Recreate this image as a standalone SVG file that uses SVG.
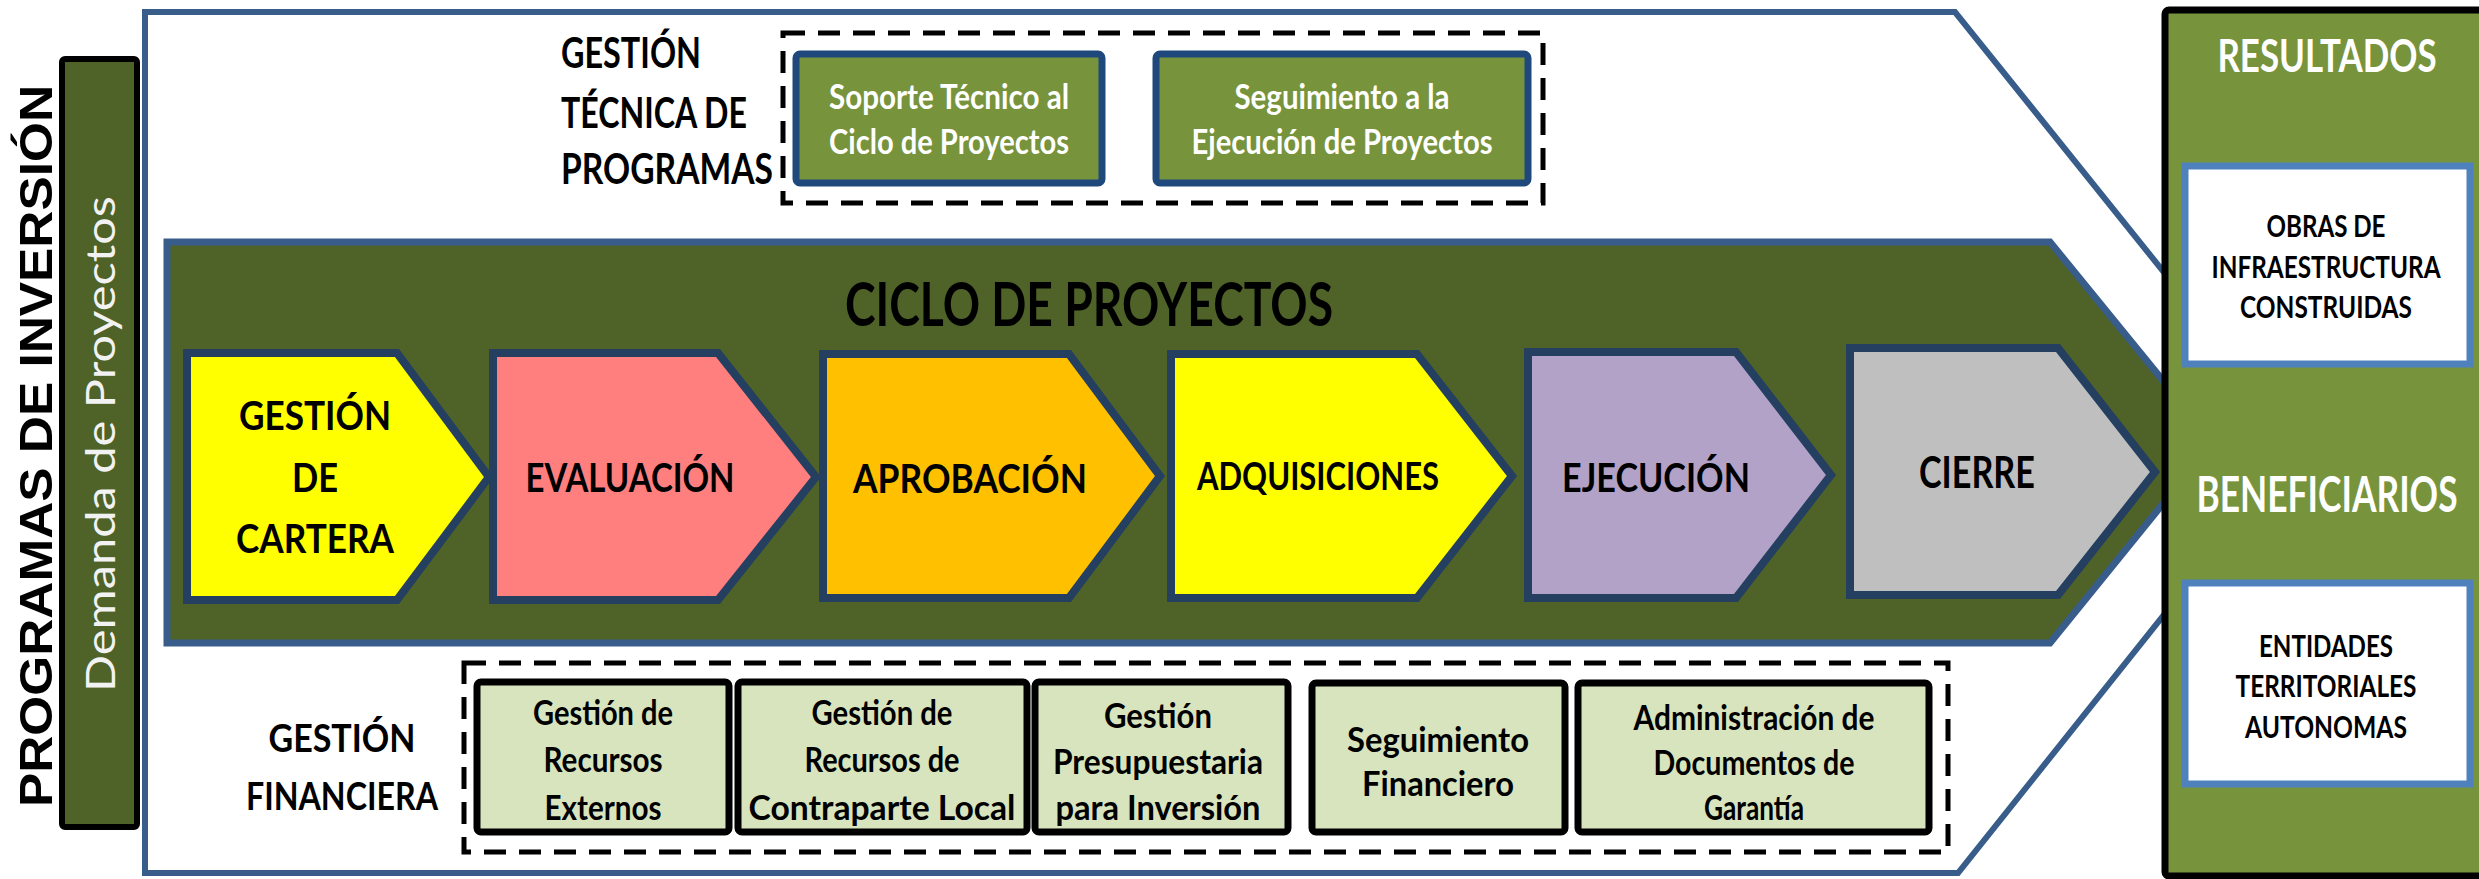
<svg xmlns="http://www.w3.org/2000/svg" width="2479" height="879" viewBox="0 0 2479 879">
<defs>
<style>
text{font-family:Lato,"Liberation Sans",sans-serif;font-weight:700;fill:#000}
.m{text-anchor:middle}
.w{fill:#fff}
.chev{stroke:#243F60;stroke-width:8}
.lbl{font-size:40px}
.dash{fill:none;stroke:#000;stroke-width:5;stroke-dasharray:22 13}
.tg{fill:#77933C;stroke:#1F497D;stroke-width:7}
.fb{fill:#D7E4BD;stroke:#000;stroke-width:7}
.wb{fill:#fff;stroke:#4F81BD;stroke-width:7}
.bt{font-size:34px}
.st{font-size:30px}
.hd{font-size:42px}
</style>
</defs>
<rect width="2479" height="879" fill="#fff"/>

<g id="programas-inversion">
<text transform="translate(52,446) rotate(-90)" class="m" style="font-family:'Liberation Sans',Arial,sans-serif;font-size:47px" textLength="722" lengthAdjust="spacingAndGlyphs">PROGRAMAS DE INVERSIÓN</text>
</g>

<g id="demanda-proyectos">
<rect x="62" y="59" width="75" height="768" rx="3" fill="#4F6228" stroke="#000" stroke-width="6"/>
<text transform="translate(115,444) rotate(-90)" class="m" style="font-weight:400;font-size:40px;fill:#F2F2F2" textLength="496" lengthAdjust="spacingAndGlyphs">Demanda de Proyectos</text>
</g>

<g id="marco-programa">
<polygon points="145,12 1955,12 2301,443 1958,873 145,873" fill="#fff" stroke="#385D8A" stroke-width="6"/>
</g>

<g id="gestion-tecnica">
<text x="561" y="68" class="hd" textLength="140" lengthAdjust="spacingAndGlyphs">GESTIÓN</text>
<text x="561" y="128" class="hd" textLength="186" lengthAdjust="spacingAndGlyphs">TÉCNICA DE</text>
<text x="561" y="184" class="hd" textLength="212" lengthAdjust="spacingAndGlyphs">PROGRAMAS</text>
<rect x="783" y="33" width="760" height="170" class="dash"/>
</g>
<g id="soporte-tecnico">
<rect x="796" y="54" width="306" height="129" rx="4" class="tg"/>
<text x="949" y="109" class="m w bt" textLength="240" lengthAdjust="spacingAndGlyphs">Soporte Técnico al</text>
<text x="949" y="154" class="m w bt" textLength="240" lengthAdjust="spacingAndGlyphs">Ciclo de Proyectos</text>
</g>
<g id="seguimiento-ejecucion">
<rect x="1156" y="54" width="372" height="129" rx="4" class="tg"/>
<text x="1342" y="109" class="m w bt" textLength="215" lengthAdjust="spacingAndGlyphs">Seguimiento a la</text>
<text x="1342" y="154" class="m w bt" textLength="301" lengthAdjust="spacingAndGlyphs">Ejecución de Proyectos</text>
</g>

<g id="ciclo-proyectos">
<polygon points="167,242 2050,242 2213,442 2050,643 167,643" fill="#4F6228" stroke="#385D8A" stroke-width="7"/>
<text x="1089" y="326" class="m" style="font-size:61px" textLength="488" lengthAdjust="spacingAndGlyphs">CICLO DE PROYECTOS</text>
</g>

<g id="gestion-cartera">
<polygon points="187,353 397,353 489,477 397,600 187,600" fill="#FFFF00" class="chev"/>
<text x="315" y="430" class="m lbl" textLength="152" lengthAdjust="spacingAndGlyphs">GESTIÓN</text>
<text x="315" y="492" class="m lbl" textLength="46" lengthAdjust="spacingAndGlyphs">DE</text>
<text x="315" y="553" class="m lbl" textLength="158" lengthAdjust="spacingAndGlyphs">CARTERA</text>
</g>
<g id="evaluacion">
<polygon points="493,353 718,353 816,477 718,600 493,600" fill="#FF7F7F" class="chev"/>
<text x="630" y="492" class="m lbl" textLength="209" lengthAdjust="spacingAndGlyphs">EVALUACIÓN</text>
</g>
<g id="aprobacion">
<polygon points="823,354 1069,354 1160,476 1069,598 823,598" fill="#FFC000" class="chev"/>
<text x="970" y="493" class="m lbl" textLength="234" lengthAdjust="spacingAndGlyphs">APROBACIÓN</text>
</g>
<g id="adquisiciones">
<polygon points="1171,354 1417,354 1512,476 1417,598 1171,598" fill="#FFFF00" class="chev"/>
<text x="1318" y="490" class="m" style="font-size:38px" textLength="242" lengthAdjust="spacingAndGlyphs">ADQUISICIONES</text>
</g>
<g id="ejecucion">
<polygon points="1528,352 1736,352 1831,475 1736,598 1528,598" fill="#B2A2C7" class="chev"/>
<text x="1656" y="492" class="m lbl" textLength="188" lengthAdjust="spacingAndGlyphs">EJECUCIÓN</text>
</g>
<g id="cierre">
<polygon points="1850,348 2058,348 2155,472 2058,595 1850,595" fill="#BFBFBF" class="chev"/>
<text x="1977" y="488" class="m" style="font-size:43px" textLength="116" lengthAdjust="spacingAndGlyphs">CIERRE</text>
</g>

<g id="gestion-financiera">
<text x="342" y="752" class="m" style="font-size:38px" textLength="147" lengthAdjust="spacingAndGlyphs">GESTIÓN</text>
<text x="342" y="810" class="m" style="font-size:38px" textLength="192" lengthAdjust="spacingAndGlyphs">FINANCIERA</text>
<rect x="464" y="663" width="1484" height="189" class="dash"/>
</g>
<g id="recursos-externos">
<rect x="477" y="682" width="252" height="150" rx="4" class="fb"/>
<text x="603" y="725" class="m bt" textLength="140" lengthAdjust="spacingAndGlyphs">Gestión de</text>
<text x="603" y="772" class="m bt" textLength="119" lengthAdjust="spacingAndGlyphs">Recursos</text>
<text x="603" y="820" class="m bt" textLength="117" lengthAdjust="spacingAndGlyphs">Externos</text>
</g>
<g id="contraparte-local">
<rect x="738" y="682" width="289" height="150" rx="4" class="fb"/>
<text x="882" y="725" class="m bt" textLength="141" lengthAdjust="spacingAndGlyphs">Gestión de</text>
<text x="882" y="772" class="m bt" textLength="155" lengthAdjust="spacingAndGlyphs">Recursos de</text>
<text x="882" y="820" class="m bt" textLength="267" lengthAdjust="spacingAndGlyphs">Contraparte Local</text>
</g>
<g id="gestion-presupuestaria">
<rect x="1035" y="682" width="253" height="150" rx="4" class="fb"/>
<text x="1158" y="728" class="m bt" textLength="108" lengthAdjust="spacingAndGlyphs">Gestión</text>
<text x="1158" y="774" class="m bt" textLength="210" lengthAdjust="spacingAndGlyphs">Presupuestaria</text>
<text x="1158" y="820" class="m bt" textLength="205" lengthAdjust="spacingAndGlyphs">para Inversión</text>
</g>
<g id="seguimiento-financiero">
<rect x="1312" y="683" width="253" height="149" rx="4" class="fb"/>
<text x="1438" y="752" class="m bt" textLength="182" lengthAdjust="spacingAndGlyphs">Seguimiento</text>
<text x="1438" y="796" class="m bt" textLength="152" lengthAdjust="spacingAndGlyphs">Financiero</text>
</g>
<g id="documentos-garantia">
<rect x="1578" y="683" width="351" height="149" rx="4" class="fb"/>
<text x="1754" y="730" class="m bt" textLength="241" lengthAdjust="spacingAndGlyphs">Administración de</text>
<text x="1754" y="775" class="m bt" textLength="201" lengthAdjust="spacingAndGlyphs">Documentos de</text>
<text x="1754" y="820" class="m bt" textLength="100" lengthAdjust="spacingAndGlyphs">Garantía</text>
</g>

<g id="resultados">
<rect x="2165" y="10" width="330" height="866" rx="4" fill="#77933C" stroke="#000" stroke-width="7"/>
<text transform="translate(2327,72) scale(0.78,1)" class="m w" style="font-size:45px" textLength="281" lengthAdjust="spacingAndGlyphs">RESULTADOS</text>
</g>
<g id="obras-infraestructura">
<rect x="2185" y="166" width="285" height="198" class="wb"/>
<text x="2326" y="237" class="m st" textLength="119" lengthAdjust="spacingAndGlyphs">OBRAS DE</text>
<text transform="translate(2326,278) scale(0.83,1)" class="m st" textLength="276" lengthAdjust="spacingAndGlyphs">INFRAESTRUCTURA</text>
<text x="2326" y="318" class="m st" textLength="172" lengthAdjust="spacingAndGlyphs">CONSTRUIDAS</text>
</g>
<g id="beneficiarios">
<text transform="translate(2327,512) scale(0.75,1)" class="m w" style="font-size:49px" textLength="348" lengthAdjust="spacingAndGlyphs">BENEFICIARIOS</text>
</g>
<g id="entidades-territoriales">
<rect x="2185" y="583" width="285" height="201" class="wb"/>
<text x="2326" y="657" class="m st" textLength="134" lengthAdjust="spacingAndGlyphs">ENTIDADES</text>
<text x="2326" y="697" class="m st" textLength="181" lengthAdjust="spacingAndGlyphs">TERRITORIALES</text>
<text x="2326" y="738" class="m st" textLength="162" lengthAdjust="spacingAndGlyphs">AUTONOMAS</text>
</g>

<g id="connectors"></g>
</svg>
